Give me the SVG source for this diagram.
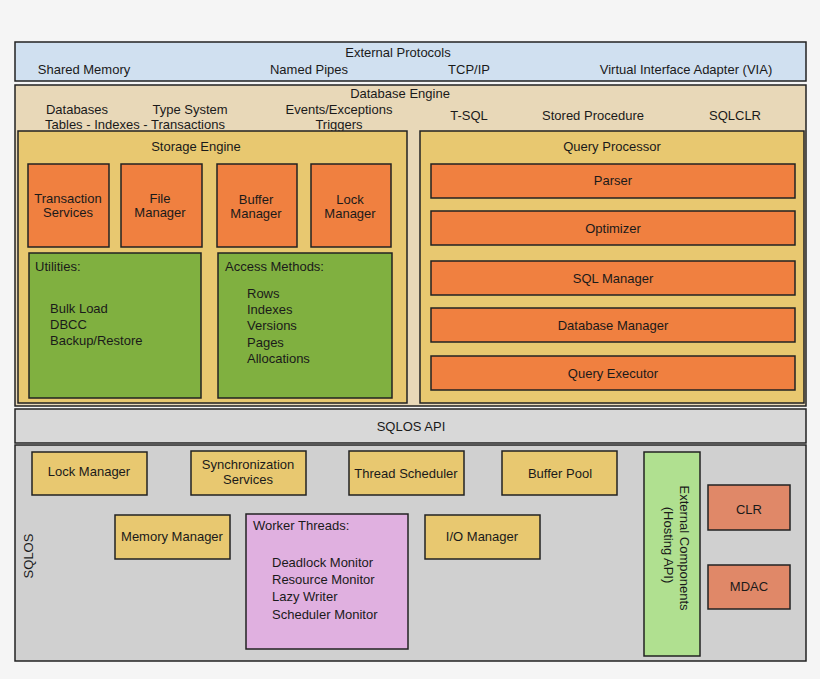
<svg xmlns="http://www.w3.org/2000/svg" width="820" height="679" viewBox="0 0 820 679">
<style>
text{font-family:"Liberation Sans",Arial,sans-serif;font-size:13px;fill:#1a1a1a}
.c{text-anchor:middle}
rect{stroke:#222;stroke-width:1.5}
.or{fill:#f08040}.gr{fill:#80b040}.ye{fill:#e8c870}
</style>
<rect x="0" y="0" width="820" height="679" fill="#f5f5f5" style="stroke:none"/>
<g id="external-protocols"><rect x="15" y="42" width="791" height="39" fill="#d0e0f0"/>
<text x="398" y="57" class="c">External Protocols</text>
<text x="84" y="74" class="c">Shared Memory</text><text x="309" y="74" class="c">Named Pipes</text>
<text x="469" y="74" class="c">TCP/IP</text><text x="686" y="74" class="c">Virtual Interface Adapter (VIA)</text></g>
<g id="database-engine"><rect x="15" y="85" width="791" height="321" fill="#e8d8b8"/>
<text x="400" y="98" class="c">Database Engine</text>
<text x="77" y="114" class="c">Databases</text><text x="190" y="114" class="c">Type System</text>
<text x="135" y="129" class="c">Tables - Indexes - Transactions</text>
<text x="339" y="114" class="c">Events/Exceptions</text><text x="339" y="129" class="c">Triggers</text>
<text x="469" y="120" class="c">T-SQL</text><text x="593" y="120" class="c">Stored Procedure</text><text x="735" y="120" class="c">SQLCLR</text></g>
<g id="storage-engine"><rect x="18" y="131" width="389" height="272" class="ye"/>
<text x="196" y="151" class="c">Storage Engine</text></g>
<g id="transaction-services"><rect x="28" y="164" width="81" height="83" class="or"/><text x="68" y="203" class="c">Transaction</text><text x="68" y="217" class="c">Services</text></g>
<g id="file-manager"><rect x="121" y="164" width="81" height="83" class="or"/><text x="160" y="203" class="c">File</text><text x="160" y="217" class="c">Manager</text></g>
<g id="buffer-manager"><rect x="217" y="164" width="80" height="83" class="or"/><text x="256" y="204" class="c">Buffer</text><text x="256" y="218" class="c">Manager</text></g>
<g id="lock-manager-se"><rect x="311" y="164" width="80" height="83" class="or"/><text x="350" y="204" class="c">Lock</text><text x="350" y="218" class="c">Manager</text></g>
<g id="utilities"><rect x="29" y="253" width="172" height="145" class="gr"/>
<text x="35" y="271">Utilities:</text><text x="50" y="313">Bulk Load</text><text x="50" y="329">DBCC</text><text x="50" y="345">Backup/Restore</text></g>
<g id="access-methods"><rect x="218" y="253" width="174" height="145" class="gr"/>
<text x="225" y="271">Access Methods:</text><text x="247" y="298">Rows</text><text x="247" y="314">Indexes</text><text x="247" y="330">Versions</text><text x="247" y="347">Pages</text><text x="247" y="363">Allocations</text></g>
<g id="query-processor"><rect x="420" y="131" width="384" height="272" class="ye"/><text x="612" y="151" class="c">Query Processor</text></g>
<g id="parser"><rect x="431" y="164" width="364" height="34" class="or"/><text x="613" y="185" class="c">Parser</text></g>
<g id="optimizer"><rect x="431" y="211" width="364" height="34" class="or"/><text x="613" y="233" class="c">Optimizer</text></g>
<g id="sql-manager"><rect x="431" y="261" width="364" height="34" class="or"/><text x="613" y="283" class="c">SQL Manager</text></g>
<g id="database-manager"><rect x="431" y="308" width="364" height="34" class="or"/><text x="613" y="330" class="c">Database Manager</text></g>
<g id="query-executor"><rect x="431" y="356" width="364" height="34" class="or"/><text x="613" y="378" class="c">Query Executor</text></g>
<g id="sqlos-api"><rect x="15" y="409" width="791" height="34" fill="#d8d8d8"/><text x="411" y="431" class="c">SQLOS API</text></g>
<g id="sqlos"><rect x="15" y="445" width="791" height="216" fill="#d0d0d0"/>
<text transform="translate(33,556) rotate(-90)" class="c">SQLOS</text></g>
<g id="lock-manager"><rect x="32" y="452" width="115" height="43" class="ye"/><text x="89" y="476" class="c">Lock Manager</text></g>
<g id="sync-services"><rect x="191" y="451" width="115" height="44" class="ye"/><text x="248" y="469" class="c">Synchronization</text><text x="248" y="484" class="c">Services</text></g>
<g id="thread-scheduler"><rect x="349" y="451" width="115" height="44" class="ye"/><text x="406" y="478" class="c">Thread Scheduler</text></g>
<g id="buffer-pool"><rect x="502" y="451" width="115" height="44" class="ye"/><text x="560" y="478" class="c">Buffer Pool</text></g>
<g id="memory-manager"><rect x="115" y="515" width="115" height="44" class="ye"/><text x="172" y="541" class="c">Memory Manager</text></g>
<g id="worker-threads"><rect x="246" y="514" width="162" height="135" fill="#e0b0e0"/>
<text x="253" y="530">Worker Threads:</text><text x="272" y="567">Deadlock Monitor</text><text x="272" y="584">Resource Monitor</text><text x="272" y="601">Lazy Writer</text><text x="272" y="619">Scheduler Monitor</text></g>
<g id="io-manager"><rect x="425" y="515" width="115" height="44" class="ye"/><text x="482" y="541" class="c">I/O Manager</text></g>
<g id="external-components"><rect x="644" y="452" width="56" height="204" fill="#b0e090"/>
<text transform="translate(680,548) rotate(90)" class="c">External Components</text>
<text transform="translate(664,545) rotate(90)" class="c">(Hosting API)</text></g>
<g id="clr"><rect x="708" y="485" width="82" height="45" fill="#e08868"/><text x="749" y="514" class="c">CLR</text></g>
<g id="mdac"><rect x="708" y="565" width="82" height="44" fill="#e08868"/><text x="749" y="591" class="c">MDAC</text></g>
<g id="connectors"/>
</svg>
